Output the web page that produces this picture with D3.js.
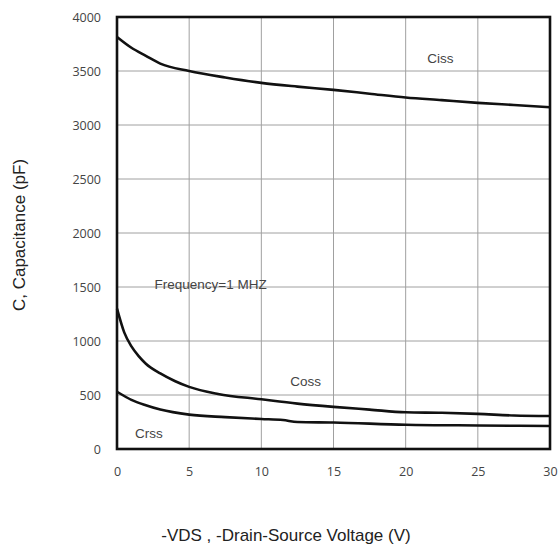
<!DOCTYPE html>
<html>
<head>
<meta charset="utf-8">
<script src="https://cdn.jsdelivr.net/npm/d3@7"></script>
<style>
  body { margin: 0; background: #fff; }
  svg text { font-family: "Liberation Sans", Arial, sans-serif; }
</style>
</head>
<body>
<div id="chart"></div>
<script>
// capacitance vs -VDS
var vdsCiss = [0, 1, 2, 3, 5, 7.5, 10, 12.5, 15, 17.5, 20, 22.5, 25, 27.5, 30];
var ciss    = [3815, 3715, 3640, 3568, 3500, 3440, 3390, 3355, 3325, 3290, 3255, 3230, 3205, 3185, 3165];

var vdsCoss = [0, 0.5, 1, 1.5, 2, 3, 4, 5, 7, 10, 12.5, 15, 17.5, 20, 22.5, 25, 27.5, 30];
var coss    = [1300, 1080, 950, 860, 790, 700, 630, 575, 510, 460, 420, 390, 365, 340, 335, 325, 310, 305];

var vdsCrss = [0, 1, 2, 3, 5, 7.5, 10, 11.5, 12.5, 15, 20, 25, 30];
var crss    = [530, 455, 405, 365, 318, 295, 278, 268, 250, 245, 225, 218, 213];

var xTicks = [0, 5, 10, 15, 20, 25, 30];
var yTicks = [0, 500, 1000, 1500, 2000, 2500, 3000, 3500, 4000];

var W = 560, H = 550,
    pL = 117, pR = 550, pT = 17, pB = 449;

var svg = d3.select("#chart").append("svg")
  .attr("width", W)
  .attr("height", H);

var x = d3.scaleLinear().domain([0, 30]).range([pL, pR]);
var y = d3.scaleLinear().domain([0, 4000]).range([pB, pT]);

// grid
svg.append("g").selectAll("line")
  .data(xTicks.slice(1, -1))
  .enter().append("line")
  .attr("x1", d => x(d)).attr("x2", d => x(d))
  .attr("y1", pT).attr("y2", pB)
  .attr("stroke", "#a0a0a0").attr("stroke-width", 1);

svg.append("g").selectAll("line")
  .data(yTicks.slice(1, -1))
  .enter().append("line")
  .attr("x1", pL).attr("x2", pR)
  .attr("y1", d => y(d)).attr("y2", d => y(d))
  .attr("stroke", "#a0a0a0").attr("stroke-width", 1);

// axes (labels only)
var xAxis = svg.append("g")
  .attr("transform", `translate(0,${pB})`)
  .call(d3.axisBottom(x).tickValues(xTicks).tickFormat(d3.format("d")).tickSize(0).tickPadding(18));
var yAxis = svg.append("g")
  .attr("transform", `translate(${pL},0)`)
  .call(d3.axisLeft(y).tickValues(yTicks).tickFormat(d3.format("d")).tickSize(0).tickPadding(16));

[xAxis, yAxis].forEach(a => {
  a.select(".domain").remove();
  a.selectAll("text")
    .style("font-family", "'Open Sans', sans-serif")
    .style("font-size", "12.5px")
    .attr("fill", "#444");
});

// curves
var line = d3.line().curve(d3.curveMonotoneX);
var series = [
  [vdsCiss, ciss],
  [vdsCoss, coss],
  [vdsCrss, crss]
];
series.forEach(s => {
  svg.append("path")
    .attr("d", line(s[0].map((v, i) => [x(v), y(s[1][i])])))
    .attr("fill", "none")
    .attr("stroke", "#111")
    .attr("stroke-width", 2.6);
});

// frame
svg.append("rect")
  .attr("x", pL).attr("y", pT)
  .attr("width", pR - pL).attr("height", pB - pT)
  .attr("fill", "none")
  .attr("stroke", "#111")
  .attr("stroke-width", 2.6);

// annotations
var notes = [
  { t: "Ciss", v: 21.5, c: 3574 },
  { t: "Coss", v: 12, c: 583 },
  { t: "Crss", v: 1.25, c: 100 },
  { t: "Frequency=1 MHZ", v: 2.6, c: 1481 }
];
svg.append("g").selectAll("text")
  .data(notes)
  .enter().append("text")
  .attr("x", d => x(d.v))
  .attr("y", d => y(d.c))
  .attr("fill", "#444")
  .style("font-size", "13.5px")
  .text(d => d.t);

// titles
svg.append("text")
  .attr("x", 286).attr("y", 541)
  .attr("text-anchor", "middle")
  .attr("fill", "#222")
  .style("font-size", "17px")
  .text("-VDS , -Drain-Source Voltage (V)");

svg.append("text")
  .attr("transform", "translate(25,235) rotate(-90)")
  .attr("text-anchor", "middle")
  .attr("fill", "#222")
  .style("font-size", "17px")
  .text("C, Capacitance (pF)");
</script>
</body>
</html>
